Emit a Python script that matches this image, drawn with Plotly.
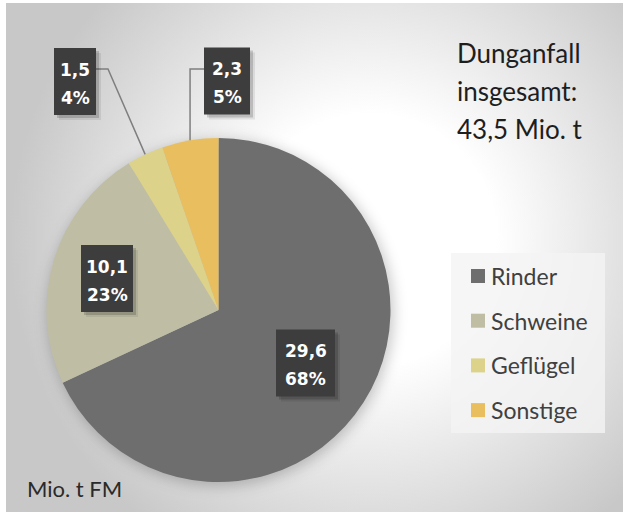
import base64
import math
import plotly.graph_objects as go

# ---------------- data ----------------
categories = ["Rinder", "Schweine", "Geflügel", "Sonstige"]
values = [29.6, 10.1, 1.5, 2.3]
value_labels = ["29,6", "10,1", "1,5", "2,3"]
pct_labels = ["68%", "23%", "4%", "5%"]
title_lines = ["Dunganfall", "insgesamt:", "43,5 Mio. t"]
unit_label = "Mio. t FM"

# ---------------- style / layout ----------------
colors = ["#6e6e6e", "#bfbea5", "#dcd28a", "#e8be5f"]
W, H = 626, 515
cx, cy, R = 218.5, 310.0, 172.0          # pie centre / radius in pixels
# label boxes: centre x, centre y, width (pixels)
box_geom = [(305.5, 363.0, 59), (107.0, 278.5, 52), (75.0, 81.5, 42), (227.0, 81.0, 46)]
box_h = 67
leader = {2: (96, 108, 69), 3: (204, None, 69)}   # box edge x, elbow x, y


def px(x):
    return x / W


def py(y):
    return 1 - y / H


# background: radial gradient + soft pie shadow
svg = f'''<svg xmlns="http://www.w3.org/2000/svg" width="{W}" height="{H}" viewBox="0 0 {W} {H}">
<defs>
<radialGradient id="g" gradientUnits="userSpaceOnUse" cx="370" cy="240" r="360">
<stop offset="0" stop-color="#ffffff"/><stop offset="0.35" stop-color="#ffffff"/><stop offset="1" stop-color="#c8c8c8"/>
</radialGradient>
<filter id="b" x="-30%" y="-30%" width="160%" height="160%"><feGaussianBlur stdDeviation="7"/></filter>
</defs>
<rect x="6" y="3" width="617" height="509" fill="url(#g)"/>
<circle cx="{cx + 2}" cy="{cy + 3}" r="{R + 1}" fill="#000" fill-opacity="0.22" filter="url(#b)"/>
</svg>'''
svg_uri = "data:image/svg+xml;base64," + base64.b64encode(svg.encode()).decode()

fig = go.Figure()
fig.add_trace(go.Pie(
    labels=categories, values=values, sort=False, direction="clockwise", rotation=0,
    marker=dict(colors=colors, line=dict(width=0)), textinfo="none", showlegend=False,
    domain=dict(x=[px(cx - R), px(cx + R)], y=[py(cy + R), py(cy - R)]),
    hoverinfo="label+value+percent",
))

shapes = []
annotations = []

# legend box
shapes.append(dict(type="rect", xref="paper", yref="paper", x0=px(451), x1=px(605), y0=py(433), y1=py(253),
                   fillcolor="rgba(244,244,244,0.8)", line=dict(width=0), layer="below"))
for i, (cat, col) in enumerate(zip(categories, colors)):
    yc = 276 + i * 44.7
    shapes.append(dict(type="rect", xref="paper", yref="paper", x0=px(471), x1=px(485),
                       y0=py(yc + 7), y1=py(yc - 7), fillcolor=col, line=dict(width=0)))
    annotations.append(dict(xref="paper", yref="paper", x=px(489), y=py(yc), text=cat, showarrow=False,
                            xanchor="left", yanchor="middle", font=dict(family="Lato", size=23, color="#404040")))

# leader lines to slice mid-angles
total = sum(values)
cum = 0
mids = []
for v in values:
    mids.append((cum + v / 2) / total * 2 * math.pi)
    cum += v
for i, (edge_x, elbow_x, ly) in leader.items():
    a = mids[i]
    ex, ey = cx + R * math.sin(a), cy - R * math.cos(a)
    bx = elbow_x if elbow_x is not None else ex
    path = f"M {px(edge_x)} {py(ly)} L {px(bx)} {py(ly)} L {px(ex)} {py(ey)}"
    shapes.append(dict(type="path", xref="paper", yref="paper", path=path,
                       line=dict(color="#7f7f7f", width=1.5)))

# label boxes
for (bxc, byc, bw), vl, pl in zip(box_geom, value_labels, pct_labels):
    for off, alpha in ((5, 0.08), (3, 0.16)):
        shapes.append(dict(type="rect", xref="paper", yref="paper",
                           x0=px(bxc - bw / 2 + off), x1=px(bxc + bw / 2 + off),
                           y0=py(byc + box_h / 2 + off), y1=py(byc - box_h / 2 + off),
                           fillcolor=f"rgba(0,0,0,{alpha})", line=dict(width=0)))
    shapes.append(dict(type="rect", xref="paper", yref="paper",
                       x0=px(bxc - bw / 2), x1=px(bxc + bw / 2),
                       y0=py(byc + box_h / 2), y1=py(byc - box_h / 2),
                       fillcolor="#3d3d3d", line=dict(width=0)))
    for txt, dy in ((vl, -12), (pl, 16)):
        annotations.append(dict(xref="paper", yref="paper", x=px(bxc), y=py(byc + dy), text=f"<b>{txt}</b>",
                                showarrow=False, xanchor="center", yanchor="middle",
                                font=dict(family="DejaVu Sans", size=17, color="#ffffff")))

# title block
for i, t in enumerate(title_lines):
    annotations.append(dict(xref="paper", yref="paper", x=px(455), y=py(53 + i * 38), text=t, showarrow=False,
                            xanchor="left", yanchor="middle", font=dict(family="Lato", size=26, color="#1e1e1e")))

annotations.append(dict(xref="paper", yref="paper", x=px(25), y=py(488), text=unit_label, showarrow=False,
                        xanchor="left", yanchor="middle", font=dict(family="Lato", size=22, color="#2a2a2a")))

fig.update_layout(
    width=W, height=H, margin=dict(l=0, r=0, t=0, b=0),
    paper_bgcolor="#ffffff", plot_bgcolor="rgba(0,0,0,0)",
    shapes=shapes, annotations=annotations, showlegend=False,
    images=[dict(source=svg_uri, xref="paper", yref="paper", x=0, y=1, sizex=1, sizey=1,
                 xanchor="left", yanchor="top", sizing="stretch", layer="below")],
)

fig.write_html("out.html", config={"displayModeBar": False},
               post_script="document.body.style.margin='0px';document.body.style.overflow='hidden';")
